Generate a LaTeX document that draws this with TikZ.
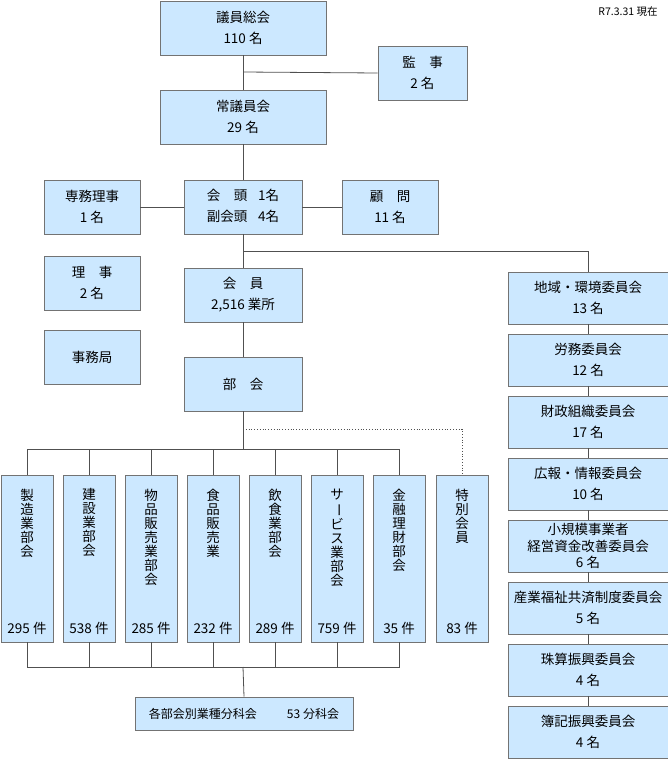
\documentclass[tikz,border=0pt]{standalone}
\usepackage{fontspec}
\setmainfont{Noto Sans CJK JP}
\definecolor{boxfill}{RGB}{204,232,255}
\definecolor{boxline}{RGB}{115,115,115}
\definecolor{connc}{RGB}{80,80,80}
\begin{document}
\begin{tikzpicture}[x=1pt,y=-1pt,
  box/.style={draw=boxline, fill=boxfill, line width=0.9pt, inner sep=0pt, align=center,
    font=\fontsize{13.5}{21}\selectfont},
  vtext/.style={inner sep=0pt, align=center, anchor=north, font=\fontsize{13.5}{14}\selectfont},
  ctext/.style={inner sep=0pt, font=\fontsize{13.5}{14}\selectfont},
  conn/.style={draw=connc, line width=0.8pt},
  dconn/.style={draw=connc, line width=0.8pt, dotted}]
\useasboundingbox (0,0) rectangle (668,760);

\node[inner sep=0pt, font=\fontsize{10.5}{12}\selectfont] (date) at (628,12) {R7.3.31 現在};

% top part
\node[box, minimum width=166, minimum height=54] (giin) at (243,28) {議員総会\\110 名};
\node[box, minimum width=89, minimum height=54] (kanji) at (422.5,73) {監　事\\2 名};
\node[box, minimum width=166, minimum height=54] (jogiin) at (243,117) {常議員会\\29 名};
\node[box, minimum width=96, minimum height=54] (senmu) at (92,207) {専務理事\\1 名};
\node[box, minimum width=118, minimum height=54] (kaito) at (243,207)
  {\begin{tabular}{@{}l@{\hspace{11pt}}r@{}}会　頭&1名\\副会頭&4名\end{tabular}};
\node[box, minimum width=96, minimum height=54] (komon) at (390,207) {顧　問\\11 名};
\node[box, minimum width=96, minimum height=54] (riji) at (92,283) {理　事\\2 名};
\node[box, minimum width=96, minimum height=54] (jimu) at (92,357) {事務局};
\node[box, minimum width=118, minimum height=54] (kaiin) at (243,295) {会　員\\2,516 業所};
\node[box, minimum width=118, minimum height=54] (bukai) at (243,384) {部　会};

\coordinate (j1) at (243,72);
\draw[conn] (giin.south) -- (jogiin.north);
\draw[conn] (j1) -- (kanji.west);
\draw[conn] (jogiin.south) -- (kaito.north);
\draw[conn] (senmu.east) -- (kaito.west);
\draw[conn] (kaito.east) -- (komon.west);
\draw[conn] (kaito.south) -- (kaiin.north);
\draw[conn] (kaiin.south) -- (bukai.north);

% committees
\begin{scope}[every node/.style={box, minimum width=160, minimum height=52}]
\node (c1) at (588,298) {地域・環境委員会\\13 名};
\node (c2) at (588,360) {労務委員会\\12 名};
\node (c3) at (588,422) {財政組織委員会\\17 名};
\node (c4) at (588,484) {広報・情報委員会\\10 名};
\node[font=\fontsize{13.5}{16.5}\selectfont] (c5) at (588,546) {小規模事業者\\経営資金改善委員会\\6 名};
\node (c6) at (588,608) {産業福祉共済制度委員会\\5 名};
\node (c7) at (588,670) {珠算振興委員会\\4 名};
\node (c8) at (588,732) {簿記振興委員会\\4 名};
\end{scope}
\coordinate (cb) at (243,251);
\coordinate (cc) at (588,251);
\draw[conn] (cb) -- (cc) -- (c1.north);
\draw[conn] (c1.south) -- (c2.north);
\draw[conn] (c2.south) -- (c3.north);
\draw[conn] (c3.south) -- (c4.north);
\draw[conn] (c4.south) -- (c5.north);
\draw[conn] (c5.south) -- (c6.north);
\draw[conn] (c6.south) -- (c7.north);
\draw[conn] (c7.south) -- (c8.north);

% departments
\begin{scope}[every node/.style={box, minimum width=52, minimum height=167}]
\node (d1) at (27,558.5) {};
\node (d2) at (89,558.5) {};
\node (d3) at (151,558.5) {};
\node (d4) at (213,558.5) {};
\node (d5) at (275,558.5) {};
\node (d6) at (337,558.5) {};
\node (d7) at (399,558.5) {};
\node (d8) at (462,558.5) {};
\end{scope}
\node[vtext] (t1) at ([yshift=-14pt]d1.north) {製\\造\\業\\部\\会};
\node[vtext] (t2) at ([yshift=-14pt]d2.north) {建\\設\\業\\部\\会};
\node[vtext] (t3) at ([yshift=-14pt]d3.north) {物\\品\\販\\売\\業\\部\\会};
\node[vtext] (t4) at ([yshift=-14pt]d4.north) {食\\品\\販\\売\\業};
\node[vtext] (t5) at ([yshift=-14pt]d5.north) {飲\\食\\業\\部\\会};
\node[vtext] (t6) at ([yshift=-14pt]d6.north) {サ\\\rotatebox[origin=c]{-90}{ー}\\ビ\\ス\\業\\部\\会};
\node[vtext] (t7) at ([yshift=-14pt]d7.north) {金\\融\\理\\財\\部\\会};
\node[vtext] (t8) at ([yshift=-14pt]d8.north) {特\\別\\会\\員};
\node[ctext] (n1) at ([yshift=14pt]d1.south) {295 件};
\node[ctext] (n2) at ([yshift=14pt]d2.south) {538 件};
\node[ctext] (n3) at ([yshift=14pt]d3.south) {285 件};
\node[ctext] (n4) at ([yshift=14pt]d4.south) {232 件};
\node[ctext] (n5) at ([yshift=14pt]d5.south) {289 件};
\node[ctext] (n6) at ([yshift=14pt]d6.south) {759 件};
\node[ctext] (n7) at ([yshift=14pt]d7.south) {35 件};
\node[ctext] (n8) at ([yshift=14pt]d8.south) {83 件};

\node[box, minimum width=218, minimum height=33, font=\fontsize{12}{14}\selectfont] (bun) at (244,713.5)
  {各部会別業種分科会\hspace{30pt}53 分科会};

% buses
\coordinate (bt) at (243,449);
\coordinate (bb) at (243,667);
\draw[conn] (bukai.south) -- (bt);
\draw[conn] (d1.north) |- (bt);
\draw[conn] (d7.north) |- (bt);
\foreach \d in {d2,d3,d4,d5,d6} { \draw[conn] (\d.north) -- (\d.north |- bt); }
\draw[conn] (d1.south) |- (bb);
\draw[conn] (d7.south) |- (bb);
\foreach \d in {d2,d3,d4,d5,d6} { \draw[conn] (\d.south) -- (\d.south |- bb); }
\draw[conn] (bb) -- (bun.north);
\coordinate (dd) at (243,429);
\draw[dconn] (dd) -| (d8.north);
\end{tikzpicture}
\end{document}
